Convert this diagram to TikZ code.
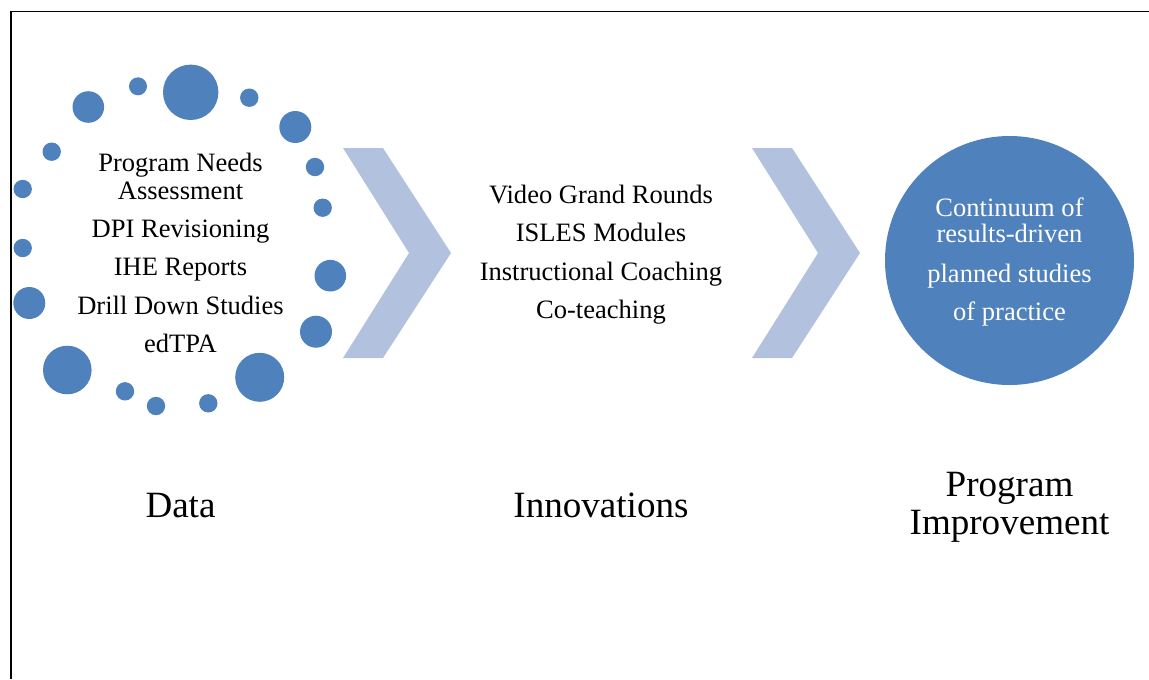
\documentclass[tikz,border=0pt]{standalone}
\usepackage{fontspec}
\setmainfont{Liberation Serif}
\definecolor{dotblue}{HTML}{4F81BD}
\definecolor{chevblue}{HTML}{B2C2DE}
\tikzstyle{listline} = [anchor=base, inner sep=0pt, 
font=\fontsize{19.9}{24}\selectfont]
\tikzstyle{stagetitle} = [anchor=base, inner sep=0pt, 
font=\fontsize{27.8}{32}\selectfont]
\tikzstyle{dot} = [fill=dotblue]
\tikzstyle{chevron} = [fill=chevblue]

\begin{document}
\begin{tikzpicture}[x=0.75pt, y=-0.75pt]
	\useasboundingbox (0,0) rectangle (1149,679);
	%Frame
	\draw [line width=1.2pt] (11,679) -- (11,11.5) -- (1149,11.5);

	%Dots
	\foreach \x/\y/\r in {190.7/92.3/27.7, 138/86.3/9, 88.3/107/15.8,
		249.3/97.7/9.2, 295.3/127/16, 51.7/151.7/9.2, 315/167/9.2,
		22.7/189/9.2, 322.7/207.7/9.2, 22.7/248/9.2, 330.3/275.7/15.8,
		29.3/303/16, 316/331.7/16, 67.3/370/24.3, 259.7/377.3/24.5,
		125/391.3/9.2, 156/406/9.2, 208.3/403.3/9.2}
		\fill [dot] (\x,\y) circle [radius=\r*0.75pt];

	%Chevrons
	\fill [chevron] (343,148) -- (383,148) -- (451,253) -- (383,358)
		-- (343,358) -- (409,253) -- cycle;
	\fill [chevron] (752,148) -- (792,148) -- (860,253) -- (792,358)
		-- (752,358) -- (818,253) -- cycle;

	%Nodes
	\node [circle, fill=dotblue, minimum size=186.75pt, inner sep=0pt] 
		(goal) at (1009.5,260.5) {};

	\node [listline] (needs) at (180.5,171.5) {Program Needs};
	\node [listline] (assess) at (180.5,199) {Assessment};
	\node [listline] (dpi) at (180.5,237.3) {DPI Revisioning};
	\node [listline] (ihe) at (180.5,275.5) {IHE Reports};
	\node [listline] (drill) at (180.5,314.3) {Drill Down Studies};
	\node [listline] (edtpa) at (180.5,352) {edTPA};

	\node [listline] (video) at (601,203.3) {Video Grand Rounds};
	\node [listline] (isles) at (601,241.7) {ISLES Modules};
	\node [listline] (coach) at (601,280) {Instructional Coaching};
	\node [listline] (coteach) at (601,318.3) {Co-teaching};

	\node [listline, text=white] (cont) at (1009.5,216.7) {Continuum of};
	\node [listline, text=white] (results) at (1009.5,242.5) {results-driven};
	\node [listline, text=white] (planned) at (1009.5,282.5) {planned studies};
	\node [listline, text=white] (practice) at (1009.5,320) {of practice};

	\node [stagetitle] (data) at (180.5,517) {Data};
	\node [stagetitle] (innov) at (601,517) {Innovations};
	\node [stagetitle] (prog) at (1009.5,496.5) {Program};
	\node [stagetitle] (improve) at (1009.5,534) {Improvement};

\end{tikzpicture}
\end{document}
